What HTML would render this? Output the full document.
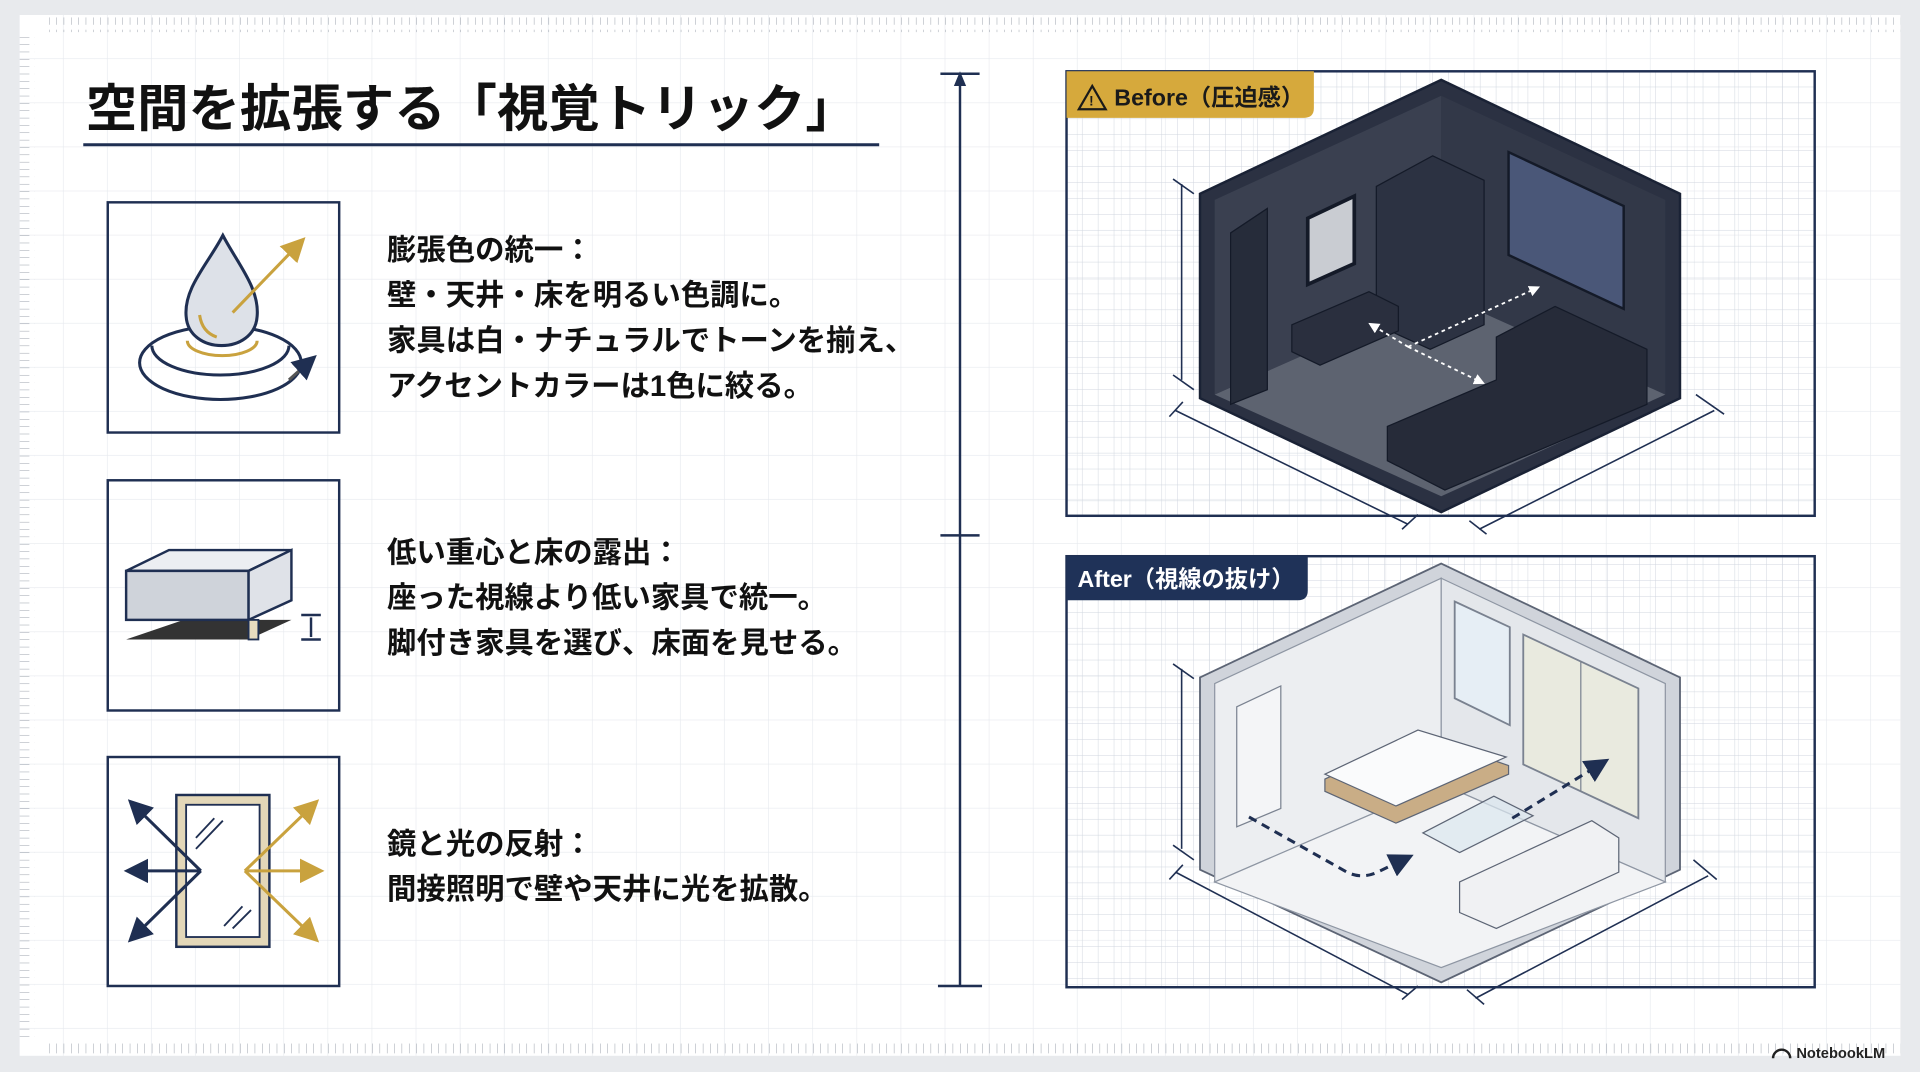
<!DOCTYPE html>
<html><head><meta charset="utf-8"><style>
html,body{margin:0;padding:0;width:1920px;height:1072px;overflow:hidden;background:#e8eaed}
svg{display:block}
text{font-family:"Liberation Sans","Noto Sans CJK JP",sans-serif}
</style></head><body>
<svg width="1920" height="1072" viewBox="0 0 1568 875" xmlns="http://www.w3.org/2000/svg">
<defs>
<pattern id="g" width="36" height="36" patternUnits="userSpaceOnUse" x="16" y="12"><path d="M36 0V36H0" fill="none" stroke="#e6e9ee" stroke-width="1"/></pattern>
<pattern id="g2" width="13" height="13" patternUnits="userSpaceOnUse" x="871" y="58"><path d="M13 0V13H0" fill="none" stroke="#d0d6df" stroke-width="0.8"/></pattern>
<pattern id="rt" width="6" height="12" patternUnits="userSpaceOnUse" x="16" y="12"><path d="M0 0V8" stroke="#9aa1ab" stroke-width="0.8"/></pattern>
<pattern id="rl" width="12" height="6" patternUnits="userSpaceOnUse" x="16" y="12"><path d="M0 0H8" stroke="#9aa1ab" stroke-width="0.8"/></pattern>
<marker id="an" markerWidth="8" markerHeight="8" refX="6" refY="4" orient="auto"><path d="M0 0L8 4L0 8z" fill="#1f2f52"/></marker>
<marker id="ag" markerWidth="8" markerHeight="8" refX="6" refY="4" orient="auto"><path d="M0 0L8 4L0 8z" fill="#c9a23e"/></marker>
<marker id="aw" markerWidth="6" markerHeight="6" refX="4" refY="3" orient="auto"><path d="M0 0L6 3L0 6z" fill="#fff"/></marker>
</defs>
<rect x="16" y="12" width="1536" height="850" fill="#fff"/>
<rect x="16" y="12" width="1536" height="850" fill="url(#g)"/>
<rect x="40" y="14" width="1512" height="12" fill="url(#rt)"/>
<rect x="40" y="850" width="1512" height="12" fill="url(#rt)"/>
<rect x="16" y="30" width="12" height="820" fill="url(#rl)"/>

<text x="70" y="103" font-size="42" font-weight="bold" fill="#111">空間を拡張する「視覚トリック」</text>
<line x1="68" y1="118" x2="718" y2="118" stroke="#1f2f52" stroke-width="2.5"/>

<g fill="none" stroke="#1f2f52" stroke-width="2">
<rect x="88" y="165" width="189" height="188"/>
<rect x="88" y="392" width="189" height="188"/>
<rect x="88" y="618" width="189" height="187"/>
</g>
<g fill="none" stroke-width="2.5">
<ellipse cx="180" cy="296" rx="66" ry="30" stroke="#1f2f52"/>
<path d="M124 282 A56 24 0 0 0 236 282" stroke="#1f2f52"/>
<path d="M153 278 A28 12 0 0 0 210 278" stroke="#c9a23e"/>
<path d="M182 192 C170 215 150 235 152 258 C154 290 208 290 210 258 C212 235 194 215 182 192z" fill="#dde1e8" stroke="#1f2f52"/>
<path d="M163 257 q2 14 14 18" stroke="#c9a23e"/>
<line x1="190" y1="255" x2="246" y2="197" stroke="#c9a23e" marker-end="url(#ag)"/>
<line x1="236" y1="310" x2="255" y2="293" stroke="#555" marker-end="url(#an)"/>
</g>
<polygon points="103,522 150,506 238,506 203,522" fill="#333"/>
<polygon points="103,466 138,449 238,449 203,466" fill="#eceef2" stroke="#1f2f52" stroke-width="2"/>
<rect x="103" y="466" width="100" height="40" fill="#cfd3da" stroke="#1f2f52" stroke-width="2"/>
<polygon points="203,466 238,449 238,490 203,506" fill="#dfe2e8" stroke="#1f2f52" stroke-width="2"/>
<rect x="203" y="506" width="8" height="16" fill="#e8dcbf" stroke="#1f2f52" stroke-width="1.5"/>
<g stroke="#1f2f52" stroke-width="2"><line x1="246" y1="502" x2="262" y2="502"/><line x1="246" y1="522" x2="262" y2="522"/><line x1="254" y1="504" x2="254" y2="520"/></g>
<rect x="144" y="649" width="76" height="124" fill="#e3d7b8" stroke="#1f2f52" stroke-width="2"/>
<rect x="152" y="657" width="60" height="108" fill="#fff" stroke="#1f2f52" stroke-width="1.5"/>
<g stroke="#1f2f52" stroke-width="1.5"><line x1="160" y1="684" x2="175" y2="668"/><line x1="160" y1="693" x2="182" y2="670"/><line x1="183" y1="756" x2="198" y2="740"/><line x1="190" y1="758" x2="205" y2="743"/></g>
<g fill="none" stroke="#1f2f52" stroke-width="2.5">
<line x1="164" y1="711" x2="108" y2="656" marker-end="url(#an)"/>
<line x1="164" y1="711" x2="106" y2="711" marker-end="url(#an)"/>
<line x1="164" y1="711" x2="108" y2="766" marker-end="url(#an)"/>
</g>
<g fill="none" stroke="#c9a23e" stroke-width="2.5">
<line x1="200" y1="711" x2="257" y2="656" marker-end="url(#ag)"/>
<line x1="200" y1="711" x2="260" y2="711" marker-end="url(#ag)"/>
<line x1="200" y1="711" x2="257" y2="766" marker-end="url(#ag)"/>
</g>

<g font-size="24" fill="#111" font-weight="600">
<text x="316" y="212" font-weight="bold">膨張色の統一：</text>
<text x="316" y="249">壁・天井・床を明るい色調に。</text>
<text x="316" y="286">家具は白・ナチュラルでトーンを揃え、</text>
<text x="316" y="323">アクセントカラーは1色に絞る。</text>
<text x="316" y="459" font-weight="bold">低い重心と床の露出：</text>
<text x="316" y="496">座った視線より低い家具で統一。</text>
<text x="316" y="533">脚付き家具を選び、床面を見せる。</text>
<text x="316" y="697" font-weight="bold">鏡と光の反射：</text>
<text x="316" y="734">間接照明で壁や天井に光を拡散。</text>
</g>

<g stroke="#1f2f52" stroke-width="2">
<line x1="784" y1="62" x2="784" y2="805"/>
<line x1="768" y1="60" x2="800" y2="60"/><line x1="768" y1="437" x2="800" y2="437"/><line x1="766" y1="805" x2="802" y2="805"/>
</g>
<path d="M779 70 L784 58 L789 70z" fill="#1f2f52"/>

<rect x="871" y="58" width="611" height="363" fill="url(#g2)" stroke="#1f2f52" stroke-width="2"/>
<polygon points="1177,65 1372,158 1372,325 1177,418 980,325 980,158" fill="#2b3142" stroke="#1a2235" stroke-width="2"/>
<polygon points="992,163 1177,78 1177,240 992,322" fill="#3a4050"/>
<polygon points="1177,78 1360,163 1360,322 1177,240" fill="#323848"/>
<polygon points="992,322 1177,240 1360,322 1177,405" fill="#5d6370"/>
<polygon points="1005,190 1035,170 1035,318 1005,330" fill="#262c3a" stroke="#141a28"/>
<polygon points="1068,178 1106,160 1106,215 1068,232" fill="#c9ccd2" stroke="#141a28" stroke-width="3"/>
<polygon points="1124,152 1170,127 1212,147 1212,265 1168,285 1124,265" fill="#2c3242" stroke="#141a28"/>
<polygon points="1232,124 1326,168 1326,252 1232,208" fill="#4a5778" stroke="#141a28" stroke-width="2"/>
<polygon points="1055,265 1118,238 1142,250 1142,270 1078,298 1055,287" fill="#2a2f3e" stroke="#141a28"/>
<polygon points="1222,275 1270,250 1345,285 1345,330 1180,400 1133,376 1133,348 1222,310" fill="#262b39" stroke="#141a28"/>
<g stroke="#fff" stroke-width="1.5" stroke-dasharray="3,3" fill="none">
<line x1="1150" y1="283" x2="1255" y2="235" marker-end="url(#aw)"/>
<line x1="1150" y1="283" x2="1120" y2="265" marker-end="url(#aw)"/>
<line x1="1150" y1="283" x2="1210" y2="312" marker-end="url(#aw)"/>
</g>
<g stroke="#1f2f52" stroke-width="1.3" fill="none">
<line x1="965" y1="150" x2="965" y2="310"/><line x1="958" y1="146" x2="975" y2="158"/><line x1="958" y1="306" x2="975" y2="318"/>
<line x1="960" y1="335" x2="1150" y2="428"/><line x1="955" y1="340" x2="966" y2="328"/><line x1="1145" y1="432" x2="1158" y2="420"/>
<line x1="1208" y1="432" x2="1400" y2="335"/><line x1="1200" y1="425" x2="1214" y2="436"/><line x1="1385" y1="322" x2="1408" y2="338"/>
</g>
<path d="M871 58 H1073 V88 Q1073 96 1065 96 H871z" fill="#d6a93c"/>
<path d="M881 89 L892 70 L903 89z" fill="none" stroke="#1a1a1a" stroke-width="1.8"/>
<text x="889.5" y="86" font-size="11" font-weight="bold" fill="#1a1a1a">!</text>
<text x="910" y="86" font-size="19" font-weight="bold" fill="#1a1a1a">Before（圧迫感）</text>

<rect x="871" y="454" width="611" height="352" fill="url(#g2)" stroke="#1f2f52" stroke-width="2"/>
<polygon points="1177,460 1372,553 1372,710 1177,802 980,710 980,553" fill="#d0d4db" stroke="#5d6575" stroke-width="1.5"/>
<polygon points="992,558 1177,472 1177,640 992,720" fill="#eceef1" stroke="#8e96a3"/>
<polygon points="1177,472 1360,558 1360,720 1177,640" fill="#e4e7eb" stroke="#8e96a3"/>
<polygon points="992,720 1177,640 1360,720 1177,790" fill="#f2f3f5" stroke="#8e96a3"/>
<polygon points="1010,577 1046,560 1046,660 1010,675" fill="#f4f5f7" stroke="#7a8290"/>
<polygon points="1188,491 1233,512 1233,592 1188,570" fill="#e6eef5" stroke="#7a8290" stroke-width="1.5"/>
<polygon points="1244,518 1338,562 1338,668 1244,624" fill="#e9eadf" stroke="#7a8290" stroke-width="1.5"/>
<line x1="1291" y1="540" x2="1291" y2="646" stroke="#7a8290"/>
<polygon points="1082,636 1160,600 1232,625 1232,632 1140,672 1082,646" fill="#c9ad86" stroke="#5d6575"/>
<polygon points="1082,632 1158,596 1230,618 1140,658" fill="#fafbfc" stroke="#5d6575"/>
<polygon points="1162,680 1220,650 1252,666 1192,696" fill="#dbe7ef" fill-opacity="0.7" stroke="#5d6575"/>
<polygon points="1192,720 1300,670 1322,684 1322,712 1222,758 1192,745" fill="#f0f1f3" stroke="#5d6575"/>
<g stroke="#1f2f52" stroke-width="2.5" fill="none" stroke-dasharray="7,5">
<path d="M1020 667 L1100 712 Q1112 718 1125 712 L1150 700" marker-end="url(#an)"/>
<line x1="1235" y1="668" x2="1310" y2="622" marker-end="url(#an)"/>
</g>
<g stroke="#1f2f52" stroke-width="1.3" fill="none">
<line x1="965" y1="546" x2="965" y2="693"/><line x1="958" y1="542" x2="975" y2="554"/><line x1="958" y1="690" x2="975" y2="702"/>
<line x1="960" y1="712" x2="1150" y2="812"/><line x1="955" y1="718" x2="966" y2="706"/><line x1="1145" y1="816" x2="1158" y2="805"/>
<line x1="1205" y1="815" x2="1395" y2="715"/><line x1="1198" y1="808" x2="1212" y2="820"/><line x1="1383" y1="702" x2="1402" y2="718"/>
</g>
<path d="M871 454 H1068 V482 Q1068 490 1060 490 H871z" fill="#1f3258"/>
<text x="880" y="479" font-size="19" font-weight="bold" fill="#fff">After（視線の抜け）</text>

<text x="1467" y="864" font-size="12" font-weight="bold" fill="#222">NotebookLM</text>
<path d="M1448 864 a7 7 0 0 1 14 0" fill="none" stroke="#222" stroke-width="2"/>
</svg>
</body></html>
